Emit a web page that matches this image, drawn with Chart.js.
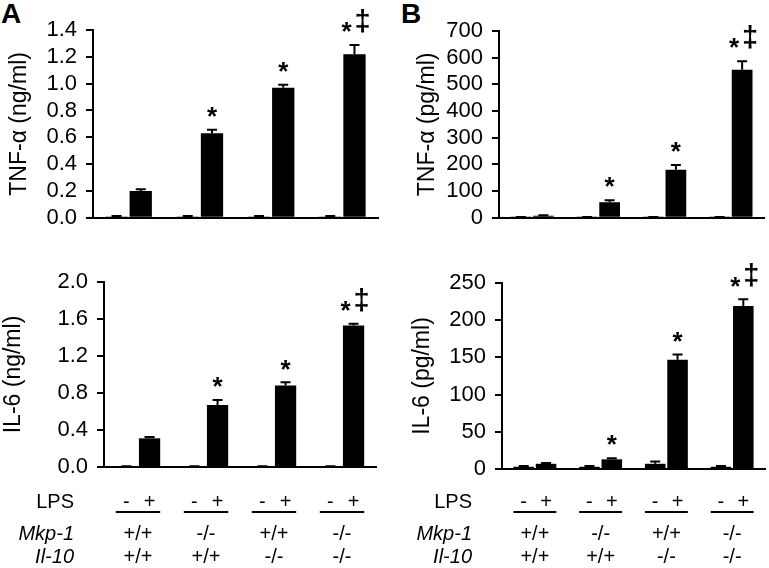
<!DOCTYPE html>
<html>
<head>
<meta charset="utf-8">
<script src="https://cdn.jsdelivr.net/npm/chart.js@4.4.1/dist/chart.umd.min.js"></script>
<style>
  body { margin: 0; background: #fff; }
  #wrap { position: relative; width: 769px; height: 568px; background: #fff; font-family: "Liberation Sans", Arial, sans-serif; }
  .panel { position: absolute; }
  .letter { position: absolute; font-weight: bold; font-size: 28px; line-height: 1; color: #000; }
</style>
</head>
<body>
<div id="wrap">
  <div class="letter" style="left:1px;top:0px">A</div>
  <div class="letter" style="left:401px;top:0px">B</div>
  <canvas class="panel" id="cA1" width="385" height="240" style="left:0;top:0"></canvas>
  <canvas class="panel" id="cB1" width="384" height="240" style="left:385px;top:0"></canvas>
  <canvas class="panel" id="cA2" width="385" height="328" style="left:0;top:240px"></canvas>
  <canvas class="panel" id="cB2" width="384" height="328" style="left:385px;top:240px"></canvas>
</div>
<script>
const FONT = '"Liberation Sans", Arial, sans-serif';

// genotype groups and the rows printed under the bottom panels
const mkp1Row = ['+/+', '-/-', '+/+', '-/-'];
const il10Row = ['+/+', '+/+', '-/-', '-/-'];
const groups = mkp1Row.map((m, i) => 'Mkp-1 ' + m + ' Il-10 ' + il10Row[i]);
const lpsSigns = ['-', '+'];
const marks = ['', '*', '*', '*‡'];

// A top: TNF-a (ng/ml)
const tnfA_noLps = [0.01, 0.01, 0.01, 0.01];
const tnfA_noLpsErr = [0.003, 0.003, 0.003, 0.003];
const tnfA_lps = [0.20, 0.63, 0.97, 1.22];
const tnfA_lpsErr = [0.012, 0.026, 0.022, 0.068];
const tnfA_ticks = ['0.0', '0.2', '0.4', '0.6', '0.8', '1.0', '1.2', '1.4'];

// A bottom: IL-6 (ng/ml)
const il6A_noLps = [0.006, 0.006, 0.006, 0.006];
const il6A_noLpsErr = [0.003, 0.003, 0.003, 0.003];
const il6A_lps = [0.31, 0.67, 0.88, 1.53];
const il6A_lpsErr = [0.015, 0.055, 0.035, 0.02];
const il6A_ticks = ['0.0', '0.4', '0.8', '1.2', '1.6', '2.0'];

// B top: TNF-a (pg/ml)
const tnfB_noLps = [2, 2, 2, 2];
const tnfB_noLpsErr = [1, 1, 1, 1];
const tnfB_lps = [8, 58, 180, 555];
const tnfB_lpsErr = [2, 8, 18, 32];
const tnfB_ticks = ['0', '100', '200', '300', '400', '500', '600', '700'];

// B bottom: IL-6 (pg/ml)
const il6B_noLps = [3, 3, 7, 3];
const il6B_noLpsErr = [1, 1, 3, 1];
const il6B_lps = [7, 13, 147, 219];
const il6B_lpsErr = [1, 1.5, 7, 9];
const il6B_ticks = ['0', '50', '100', '150', '200', '250'];

const errorBars = {
  id: 'errorBars',
  afterDatasetsDraw(chart) {
    const ctx = chart.ctx, y = chart.scales.y;
    ctx.save();
    ctx.strokeStyle = '#000';
    ctx.lineWidth = 2;
    chart.data.datasets.forEach((ds, di) => {
      chart.getDatasetMeta(di).data.forEach((el, i) => {
        const top = y.getPixelForValue(ds.data[i] + ds.errs[i]);
        ctx.beginPath();
        ctx.moveTo(el.x, el.y);
        ctx.lineTo(el.x, top);
        ctx.moveTo(el.x - 5, top);
        ctx.lineTo(el.x + 5, top);
        ctx.stroke();
      });
    });
    // significance marks above the LPS bars
    const ds = chart.data.datasets[1];
    ctx.fillStyle = '#000';
    ctx.textAlign = 'center';
    ctx.textBaseline = 'middle';
    chart.getDatasetMeta(1).data.forEach((el, i) => {
      const m = marks[i];
      if (!m) return;
      const top = y.getPixelForValue(ds.data[i] + ds.errs[i]);
      ctx.font = 'bold 26px ' + FONT;
      if (m.length === 1) {
        ctx.fillText('*', el.x, top - 12);
      } else {
        ctx.fillText('*', el.x - 8, top - 12);
        ctx.font = 'bold 29px ' + FONT;
        ctx.fillText('‡', el.x + 8, top - 22);
      }
    });
    ctx.restore();
  }
};

const rowY = { lps: 262, line: 272, mkp: 294, il10: 317 };
const genotypeRows = {
  id: 'genotypeRows',
  afterDraw(chart) {
    const ctx = chart.ctx;
    const m0 = chart.getDatasetMeta(0), m1 = chart.getDatasetMeta(1);
    const xs = chart.scales.x;
    const labelX = chart.chartArea.left - 30;
    ctx.save();
    ctx.fillStyle = '#000';
    ctx.strokeStyle = '#000';
    ctx.lineWidth = 2;
    ctx.textBaseline = 'middle';
    ctx.textAlign = 'right';
    ctx.font = '20px ' + FONT;
    ctx.fillText('LPS', labelX, rowY.lps);
    ctx.font = 'italic 20px ' + FONT;
    ctx.fillText('Mkp-1', labelX, rowY.mkp);
    ctx.fillText('Il-10', labelX, rowY.il10);
    ctx.font = '20px ' + FONT;
    ctx.textAlign = 'center';
    groups.forEach((g, i) => {
      const a = m0.data[i], b = m1.data[i];
      ctx.fillText(lpsSigns[0], a.x, rowY.lps);
      ctx.fillText(lpsSigns[1], b.x, rowY.lps);
      ctx.beginPath();
      ctx.moveTo(a.x - a.width / 2, rowY.line);
      ctx.lineTo(b.x + b.width / 2, rowY.line);
      ctx.stroke();
      const cx = xs.getPixelForValue(i);
      ctx.fillText(mkp1Row[i], cx, rowY.mkp);
      ctx.fillText(il10Row[i], cx, rowY.il10);
    });
    ctx.restore();
  }
};

function makePanel(id, box, title, titlePad, max, step, tickLabels, noLps, noLpsErr, lps, lpsErr, withRows) {
  const canvas = document.getElementById(id);
  const barStyle = { backgroundColor: '#000', borderWidth: 0, categoryPercentage: 0.68, barPercentage: 0.92 };
  new Chart(canvas, {
    type: 'bar',
    data: {
      labels: groups,
      datasets: [
        Object.assign({ label: 'LPS -', data: noLps, errs: noLpsErr }, barStyle),
        Object.assign({ label: 'LPS +', data: lps, errs: lpsErr }, barStyle)
      ]
    },
    options: {
      responsive: false,
      animation: false,
      layout: { padding: { left: 0, top: box.top, right: canvas.width - box.right, bottom: canvas.height - box.zero } },
      plugins: { legend: { display: false }, tooltip: { enabled: false } },
      scales: {
        x: {
          grid: { display: false },
          ticks: { display: false },
          border: { display: true, color: '#000', width: 2 },
          afterFit(s) { s.height = 0; }
        },
        y: {
          min: 0,
          max: max,
          ticks: {
            stepSize: step,
            autoSkip: false,
            color: '#000',
            padding: 9,
            font: { family: FONT, size: 22 },
            callback: (v, i) => tickLabels[i]
          },
          grid: { drawOnChartArea: false, drawTicks: true, tickLength: 7, color: '#000', lineWidth: 2 },
          border: { display: true, color: '#000', width: 2 },
          title: { display: true, text: title, color: '#000', font: { family: FONT, size: 23 }, padding: { top: titlePad, bottom: 0 } },
          afterFit(s) { s.width = box.axis; }
        }
      }
    },
    plugins: withRows ? [errorBars, genotypeRows] : [errorBars]
  });
}

makePanel('cA1', { axis: 93, top: 30, zero: 224, right: 378 }, 'TNF-α (ng/ml)', 6, 1.4, 0.2, tnfA_ticks,
  tnfA_noLps, tnfA_noLpsErr, tnfA_lps, tnfA_lpsErr, false);
makePanel('cB1', { axis: 114, top: 31, zero: 226, right: 379 }, 'TNF-α (pg/ml)', 29, 700, 100, tnfB_ticks,
  tnfB_noLps, tnfB_noLpsErr, tnfB_lps, tnfB_lpsErr, false);
makePanel('cA2', { axis: 104, top: 42, zero: 227, right: 376 }, 'IL-6 (ng/ml)', 0, 2.0, 0.4, il6A_ticks,
  il6A_noLps, il6A_noLpsErr, il6A_lps, il6A_lpsErr, true);
makePanel('cB2', { axis: 117, top: 43, zero: 229, right: 380 }, 'IL-6 (pg/ml)', 24, 250, 50, il6B_ticks,
  il6B_noLps, il6B_noLpsErr, il6B_lps, il6B_lpsErr, true);
</script>
</body>
</html>
